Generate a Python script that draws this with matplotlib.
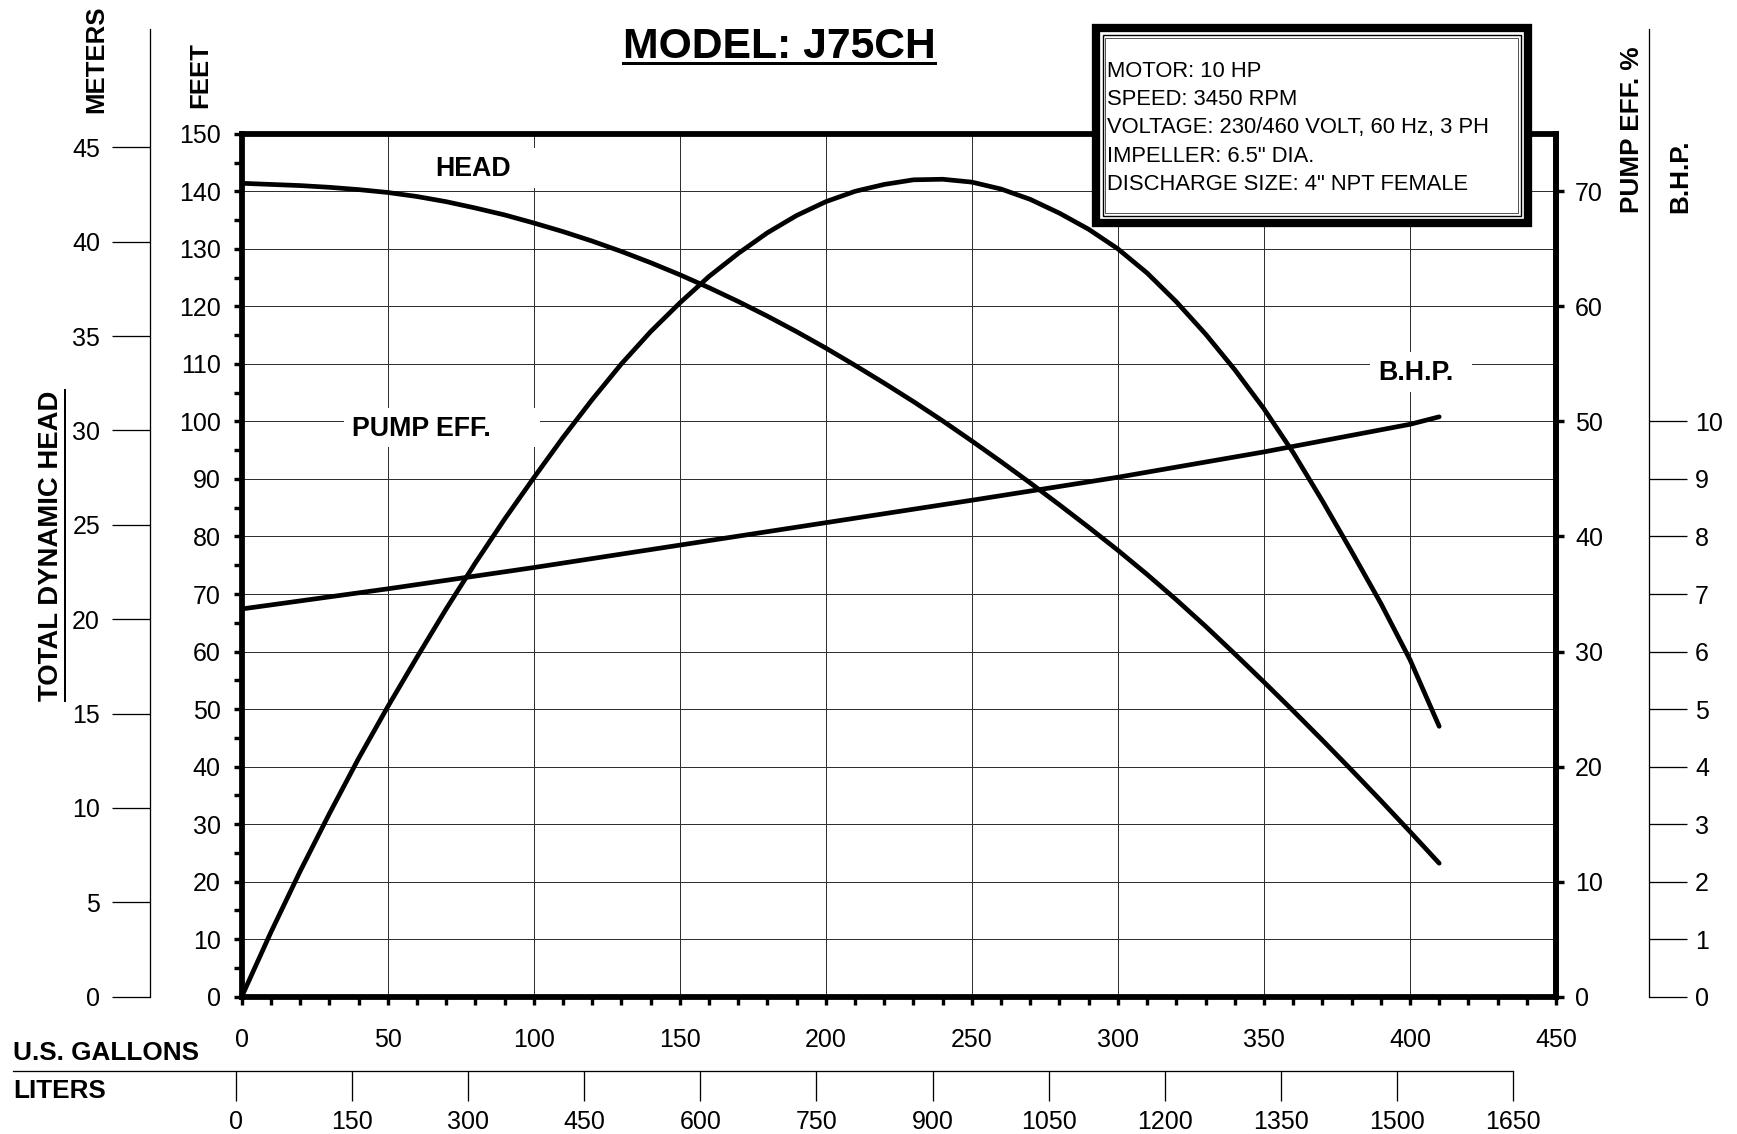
import numpy as np
import matplotlib
matplotlib.use("Agg")
import matplotlib.pyplot as plt
from matplotlib.patches import Rectangle
from matplotlib.lines import Line2D
from matplotlib.ticker import MultipleLocator, FixedLocator

plt.rcParams['font.family'] = ['Liberation Sans', 'DejaVu Sans']

# ---------------- data ----------------
head_gpm = [0, 10, 20, 30, 40, 50, 60, 70, 80, 90, 100, 110, 120, 130, 140, 150, 160, 170,
            180, 190, 200, 210, 220, 230, 240, 250, 260, 270, 280, 290, 300, 310, 320, 330,
            340, 350, 360, 370, 380, 390, 400, 410]
head_ft = [141.4, 141.2, 141.0, 140.7, 140.3, 139.8, 139.1, 138.2, 137.1, 135.9, 134.5, 133.0,
           131.35, 129.55, 127.6, 125.5, 123.25, 120.85, 118.3, 115.6, 112.75, 109.75, 106.65,
           103.45, 100.1, 96.6, 93.0, 89.3, 85.5, 81.6, 77.6, 73.4, 69.0, 64.4, 59.6, 54.7,
           49.7, 44.6, 39.4, 34.1, 28.7, 23.2]

eff_gpm = head_gpm
eff_pct = [0, 5.6, 10.9, 15.9, 20.7, 25.2, 29.5, 33.7, 37.7, 41.5, 45.1, 48.6, 51.9, 55.0,
           57.8, 60.3, 62.6, 64.6, 66.4, 67.9, 69.1, 70.0, 70.6, 71.0, 71.05, 70.8, 70.2, 69.3,
           68.1, 66.7, 65.0, 62.9, 60.4, 57.6, 54.5, 51.1, 47.3, 43.1, 38.7, 34.2, 29.3, 23.5]

bhp_gpm = [0, 50, 100, 150, 200, 250, 300, 350, 400, 410]
bhp_hp = [6.74, 7.09, 7.46, 7.85, 8.24, 8.63, 9.03, 9.47, 9.95, 10.08]

gal_ticks = [0, 50, 100, 150, 200, 250, 300, 350, 400, 450]
feet_ticks = [0, 10, 20, 30, 40, 50, 60, 70, 80, 90, 100, 110, 120, 130, 140, 150]
eff_ticks = [0, 10, 20, 30, 40, 50, 60, 70]
meter_ticks = [0, 5, 10, 15, 20, 25, 30, 35, 40, 45]
bhp_ticks = [0, 1, 2, 3, 4, 5, 6, 7, 8, 9, 10]
liter_ticks = [0, 150, 300, 450, 600, 750, 900, 1050, 1200, 1350, 1500, 1650]

info_lines = ["MOTOR: 10 HP", "SPEED: 3450 RPM", "VOLTAGE: 230/460 VOLT, 60 Hz, 3 PH",
              "IMPELLER: 6.5\" DIA.", "DISCHARGE SIZE: 4\" NPT FEMALE"]

FT_PER_M = 3.2808

# ---------------- layout (pixels, origin top-left) ----------------
W, H = 1737, 1134
fig = plt.figure(figsize=(W / 100, H / 100), dpi=100)


def fx(x):
    return x / W


def fy(y):
    return 1 - y / H


ML, MR, MT, MB = 241.7, 1556.0, 133.8, 996.7
SCALE_TOP = 29.0
PT = 0.72  # points per pixel

ax = fig.add_axes([fx(ML), fy(MB), (MR - ML) / W, (MB - MT) / H])
ax.set_xlim(0, 450)
ax.set_ylim(0, 150)
ax.xaxis.set_major_locator(FixedLocator(gal_ticks))
ax.xaxis.set_minor_locator(MultipleLocator(10))
ax.yaxis.set_major_locator(FixedLocator(feet_ticks))
ax.yaxis.set_minor_locator(MultipleLocator(5))
ax.grid(True, which='major', color='#303030', linewidth=1.0 * PT)
for s in ax.spines.values():
    s.set_linewidth(5.8 * PT)
ax.tick_params(axis='both', which='both', direction='out', length=8 * PT,
               width=3.4 * PT, color='black', labelsize=18)
ax.tick_params(axis='x', which='major', pad=16.7)
ax.tick_params(axis='y', which='major', pad=9.5)
ax.tick_params(top=False, right=False, which='both')

# efficiency (right) axis
ax_e = ax.twinx()
ax_e.set_ylim(0, 75)
ax_e.yaxis.set_major_locator(FixedLocator(eff_ticks))
for k in ['left', 'top', 'bottom']:
    ax_e.spines[k].set_visible(False)
ax_e.spines['right'].set_linewidth(5.8 * PT)
ax_e.tick_params(axis='y', which='major', direction='out', length=8 * PT,
                 width=3.4 * PT, labelsize=18, pad=8)

# hidden BHP axis sharing the plot area
ax_h = ax.twinx()
ax_h.set_ylim(0, 15)
ax_h.axis('off')

# curves
lw_curve = 4.7 * PT
ax.plot(head_gpm, head_ft, color='black', lw=lw_curve, solid_capstyle='round',
        solid_joinstyle='round', zorder=4)
ax_e.plot(eff_gpm, eff_pct, color='black', lw=lw_curve, solid_capstyle='round',
          solid_joinstyle='round', zorder=4)
ax_h.plot(bhp_gpm, bhp_hp, color='black', lw=lw_curve, solid_capstyle='round',
          solid_joinstyle='round', zorder=4)

# curve labels with white backgrounds (covering grid)
label_specs = [
    ("HEAD", 472.7, 168.5, (412, 148, 540, 188)),
    ("PUMP EFF.", 421.8, 428.8, (344, 408, 540, 447)),
    ("B.H.P.", 1415.6, 372.7, (1370, 352, 1472, 392)),
]
for txt, cx, cy, (x0, y0, x1, y1) in label_specs:
    ax.add_patch(Rectangle((fx(x0), fy(y1)), (x1 - x0) / W, (y1 - y0) / H,
                           transform=fig.transFigure, facecolor='white',
                           edgecolor='none', zorder=2.5))
    ax.text(fx(cx), fy(cy), txt, transform=fig.transFigure, ha='center', va='center',
            fontsize=19.3, fontweight='bold', zorder=3)

# meters scale (left outer)
ft_ext = 150 * (MB - SCALE_TOP) / (MB - MT)
ax_m = fig.add_axes([fx(150), fy(MB), 1 / W, (MB - SCALE_TOP) / H])
ax_m.set_ylim(0, ft_ext / FT_PER_M)
ax_m.patch.set_visible(False)
for k in ['right', 'top', 'bottom']:
    ax_m.spines[k].set_visible(False)
ax_m.spines['left'].set_linewidth(1.3 * PT)
ax_m.set_xticks([])
ax_m.yaxis.set_major_locator(FixedLocator(meter_ticks))
ax_m.tick_params(axis='y', direction='out', length=38 * PT, width=1.3 * PT,
                 labelsize=18, pad=8.6)

# B.H.P. scale (right outer)
ax_b = fig.add_axes([fx(1649.3) - 1 / W, fy(MB), 1 / W, (MB - SCALE_TOP) / H])
ax_b.set_ylim(0, ft_ext / 10)
ax_b.patch.set_visible(False)
for k in ['left', 'top', 'bottom']:
    ax_b.spines[k].set_visible(False)
ax_b.spines['right'].set_linewidth(1.3 * PT)
ax_b.set_xticks([])
ax_b.yaxis.tick_right()
ax_b.yaxis.set_major_locator(FixedLocator(bhp_ticks))
ax_b.tick_params(axis='y', direction='out', length=38 * PT, width=1.3 * PT,
                 labelsize=18, pad=5.5)

# liters scale (bottom)
L0_PX, L1650_PX, LX0 = 236.3, 1512.7, 13.0
px_per_l = (L1650_PX - L0_PX) / 1650
ax_l = fig.add_axes([fx(LX0), fy(1071), (L1650_PX - LX0) / W, 1 / H])
ax_l.set_xlim(-(L0_PX - LX0) / px_per_l, 1650)
ax_l.patch.set_visible(False)
for k in ['left', 'right', 'top']:
    ax_l.spines[k].set_visible(False)
ax_l.spines['bottom'].set_linewidth(1.3 * PT)
ax_l.set_yticks([])
ax_l.xaxis.set_major_locator(FixedLocator(liter_ticks))
ax_l.tick_params(axis='x', direction='out', length=30 * PT, width=1.3 * PT,
                 labelsize=18, pad=6.2)

# axis titles
fig.text(fx(95.8), fy(113), "METERS", rotation=90, ha='center', va='bottom',
         fontsize=18.5, fontweight='bold')
fig.text(fx(200), fy(108), "FEET", rotation=90, ha='center', va='bottom',
         fontsize=18.5, fontweight='bold')
tdh = fig.text(fx(51), fy(545.6), "TOTAL DYNAMIC HEAD", rotation=90, ha='center',
               va='center', fontsize=19.8, fontweight='bold')
fig.text(fx(1631.7), fy(213.3), "PUMP EFF. %", rotation=90, ha='center', va='bottom',
         fontsize=18.8, fontweight='bold')
fig.text(fx(1680), fy(213.3), "B.H.P.", rotation=90, ha='center', va='bottom',
         fontsize=18.8, fontweight='bold')
fig.text(fx(13), fy(1053), "U.S. GALLONS", ha='left', va='center',
         fontsize=18.8, fontweight='bold')
fig.text(fx(13), fy(1091), "LITERS", ha='left', va='center',
         fontsize=18.8, fontweight='bold')

title = fig.text(fx(779), fy(58), "MODEL: J75CH", ha='center', va='baseline',
                 fontsize=30.7, fontweight='bold')

# info box
BX0, BY0, BX1, BY1 = 1091.7, 24.0, 1531.7, 226.7
fig.patches.append(Rectangle((fx(BX0), fy(BY1)), (BX1 - BX0) / W, (BY1 - BY0) / H,
                             transform=fig.transFigure, facecolor='white',
                             edgecolor='none', zorder=10))
t = 8.3
fig.patches.append(Rectangle((fx(BX0 + t / 2), fy(BY1 - t / 2)), (BX1 - BX0 - t) / W,
                             (BY1 - BY0 - t) / H, transform=fig.transFigure,
                             facecolor='none', edgecolor='black', lw=t * PT, zorder=11))
for ins, lw, col in [(11.2, 1.4, 'black'), (13.6, 1.0, '#555555')]:
    fig.patches.append(Rectangle((fx(BX0 + ins), fy(BY1 - ins)), (BX1 - BX0 - 2 * ins) / W,
                                 (BY1 - BY0 - 2 * ins) / H, transform=fig.transFigure,
                                 facecolor='none', edgecolor=col, lw=lw * PT, zorder=11))
for i, line in enumerate(info_lines):
    fig.text(fx(1106.7), fy(76.7 + 28.33 * i), line, ha='left', va='baseline',
             fontsize=15.8, zorder=12)

# underlines
fig.canvas.draw()
r = fig.canvas.get_renderer()
bb = title.get_window_extent(r)
fig.lines.append(Line2D([bb.x0 / W, bb.x1 / W], [fy(63), fy(63)],
                        transform=fig.transFigure, color='black', lw=3 * PT))
bb2 = tdh.get_window_extent(r)
fig.lines.append(Line2D([fx(65), fx(65)], [bb2.y0 / H, bb2.y1 / H],
                        transform=fig.transFigure, color='black', lw=2 * PT))

fig.savefig("out.png", dpi=100, facecolor='white')
